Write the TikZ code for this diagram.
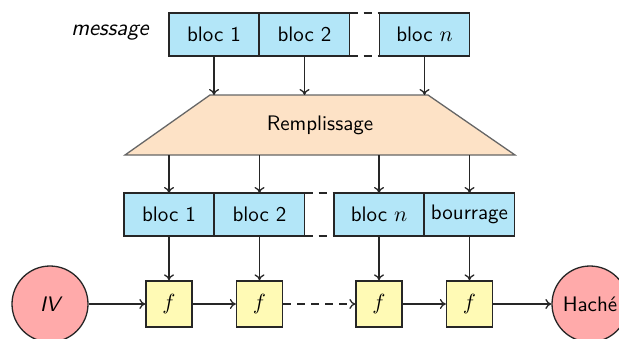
\documentclass[tikz,border=0pt]{standalone}
\usetikzlibrary{arrows.meta}
\definecolor{blocblue}{HTML}{B3E6F8}
\definecolor{padpeach}{HTML}{FDE2C6}
\definecolor{fyellow}{HTML}{FFFAB5}
\definecolor{ivpink}{HTML}{FFAAAA}
\begin{document}
\begin{tikzpicture}[x=0.5pt,y=-0.5pt,font=\sffamily\fontsize{10.5}{13}\selectfont,
  line width=0.65pt,
  blocbox/.style={draw=black!85,fill=blocblue,minimum width=45pt,minimum height=21.5pt,inner sep=0pt,outer sep=0pt},
  fbox/.style={draw=black!85,fill=fyellow,minimum width=23pt,minimum height=23pt,inner sep=0pt},
  endcirc/.style={draw=black!85,fill=ivpink,circle,minimum size=38pt,inner sep=0pt},
  arr/.style={-{To[length=3pt,width=5pt]},black!85},
  gapline/.style={dashed,black!85,dash pattern=on 4pt off 3pt}]
\useasboundingbox (0,0) rectangle (619,338);
% top row
\node[font=\sffamily\fontsize{11.5}{14}\selectfont] (msg) at (110,33) {\itshape message};
\node[blocbox] (a1) at (214,34.5) {bloc 1};
\node[blocbox] (a2) at (304.5,34.5) {bloc 2};
\node[blocbox] (an) at (424.5,34.5) {bloc $n$};
\draw[gapline] (a2.north east) -- (an.north west);
\draw[gapline] (a2.south east) -- (an.south west);
% padding
\coordinate (ptl) at (210,95);
\coordinate (ptr) at (428,95);
\coordinate (pbr) at (515,155);
\coordinate (pbl) at (125,155);
\draw[draw=black!60,fill=padpeach] (ptl) -- (ptr) -- (pbr) -- (pbl) -- cycle;
\node (pad) at (320,125) {Remplissage};
\draw[arr] (a1.south) -- (a1.south |- ptl);
\draw[arr] (a2.south) -- (a2.south |- ptl);
\draw[arr] (an.south) -- (an.south |- ptl);
% second row
\node[blocbox] (b1) at (169,214.5) {bloc 1};
\node[blocbox] (b2) at (259.5,214.5) {bloc 2};
\node[blocbox] (bn) at (379,214.5) {bloc $n$};
\node[blocbox] (bp) at (469.5,214.5) {bourrage};
\draw[gapline] (b2.north east) -- (bn.north west);
\draw[gapline] (b2.south east) -- (bn.south west);
\draw[arr] (b1.north |- pbl) -- (b1.north);
\draw[arr] (b2.north |- pbl) -- (b2.north);
\draw[arr] (bn.north |- pbl) -- (bn.north);
\draw[arr] (bp.north |- pbl) -- (bp.north);
% compression row
\node[endcirc] (iv) at (50,304) {\itshape IV};
\node[fbox] (f1) at (169,304) {$f$};
\node[fbox] (f2) at (259.5,304) {$f$};
\node[fbox] (f3) at (379,304) {$f$};
\node[fbox] (f4) at (469.5,304) {$f$};
\node[endcirc] (h) at (590,304) {Haché};
\draw[arr] (b1) -- (f1);
\draw[arr] (b2) -- (f2);
\draw[arr] (bn) -- (f3);
\draw[arr] (bp) -- (f4);
\draw[arr] (iv) -- (f1);
\draw[arr] (f1) -- (f2);
\draw[arr,dashed,dash pattern=on 4pt off 3pt] (f2) -- (f3);
\draw[arr] (f3) -- (f4);
\draw[arr] (f4) -- (h);
\end{tikzpicture}
\end{document}
